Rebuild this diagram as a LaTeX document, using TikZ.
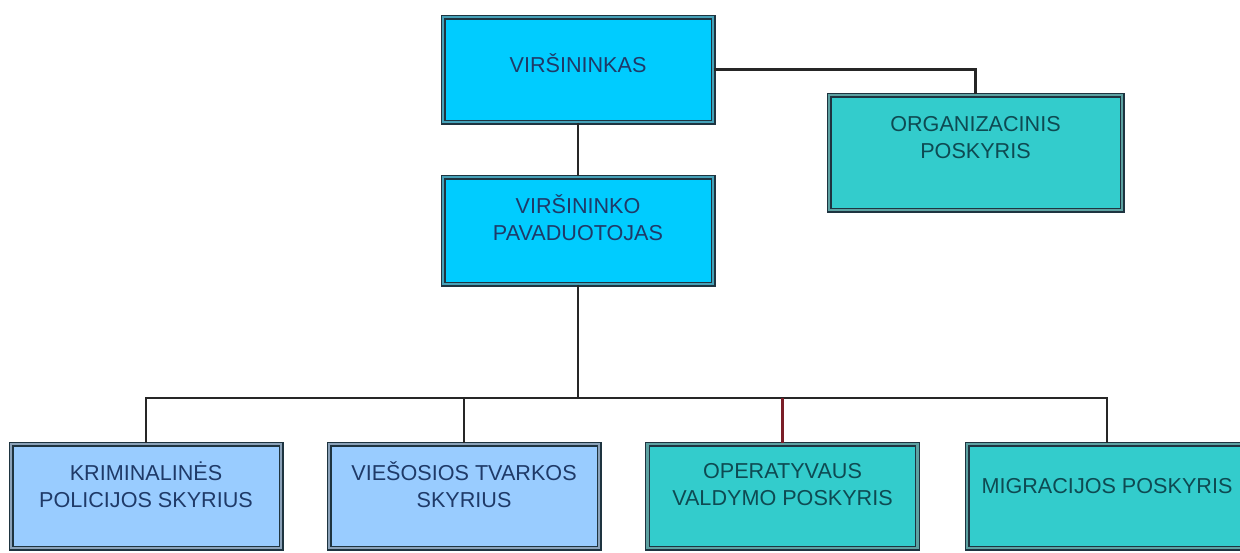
\documentclass[tikz,border=0pt]{standalone}
\usepackage{fontspec}
\setmainfont{Liberation Sans}
\usetikzlibrary{positioning}
\definecolor{bossblue}{HTML}{00CCFF}
\definecolor{deptblue}{HTML}{99CCFF}
\definecolor{unitteal}{HTML}{33CCCC}
\definecolor{framedark}{HTML}{1E3440}
\definecolor{navytext}{HTML}{1F3A68}
\definecolor{tealtext}{HTML}{0E4A52}
\definecolor{linkred}{HTML}{7A1E28}
\tikzstyle{base} = [rectangle, draw=framedark, line width=0.7pt, double distance=1.1pt, minimum width=135pt, minimum height=52pt, inner sep=0pt]
\tikzstyle{chief} = [base, fill=bossblue, double=bossblue!45!gray]
\tikzstyle{dept} = [base, fill=deptblue, double=deptblue!45!gray]
\tikzstyle{unit} = [base, fill=unitteal, double=unitteal!45!gray]
\tikzstyle{caption} = [font=\fontsize{10.8}{13.5}\selectfont, align=center, anchor=center, yshift=-20.5pt]
\tikzstyle{link} = [line width=1.4pt, draw=black!85]

\begin{document}
\begin{tikzpicture}[x=0.5pt, y=-0.5pt]
\useasboundingbox (0,0) rectangle (1240,552);
\clip (0,0) rectangle (1240,552);

\node (VIRSININKAS) [chief, minimum height=52.5pt, label={[caption, navytext, yshift=-3pt]north:VIRŠININKAS}] at (578,69.5) {};
\node (PAVADUOTOJAS) [chief, minimum height=53.5pt, label={[caption, navytext]north:VIRŠININKO\\PAVADUOTOJAS}] at (578,230.5) {};
\node (ORGANIZACINIS) [unit, minimum width=146.5pt, minimum height=57.5pt, label={[caption, tealtext, yshift=-1pt]north:ORGANIZACINIS\\POSKYRIS}] at (975.5,152.5) {};

\node (KRIMINALINES) [dept, label={[caption, navytext]north:KRIMINALINĖS\\POLICIJOS SKYRIUS}] at (146,496) {};
\node (VIESOSIOS) [dept, label={[caption, navytext]north:VIEŠOSIOS TVARKOS\\SKYRIUS}] at (464,496) {};
\node (OPERATYVAUS) [unit, label={[caption, tealtext]north:OPERATYVAUS\\VALDYMO POSKYRIS}] at (782.5,496) {};
\node (MIGRACIJOS) [unit, minimum width=140pt, label={[caption, tealtext, yshift=-1pt]north:MIGRACIJOS POSKYRIS}] at (1107,496) {};

\coordinate (BUS) at (578,398);

\draw [link] (VIRSININKAS.east) -| (ORGANIZACINIS);
\draw [link] (VIRSININKAS) -- (PAVADUOTOJAS);
\draw [link] (PAVADUOTOJAS) -- (BUS);

\draw [link] (BUS) -| (KRIMINALINES);
\draw [link] (BUS) -| (VIESOSIOS);
\draw [link] (BUS) -| (MIGRACIJOS);
\draw [link, draw=linkred] (BUS -| OPERATYVAUS) -- (OPERATYVAUS);

\end{tikzpicture}
\end{document}
